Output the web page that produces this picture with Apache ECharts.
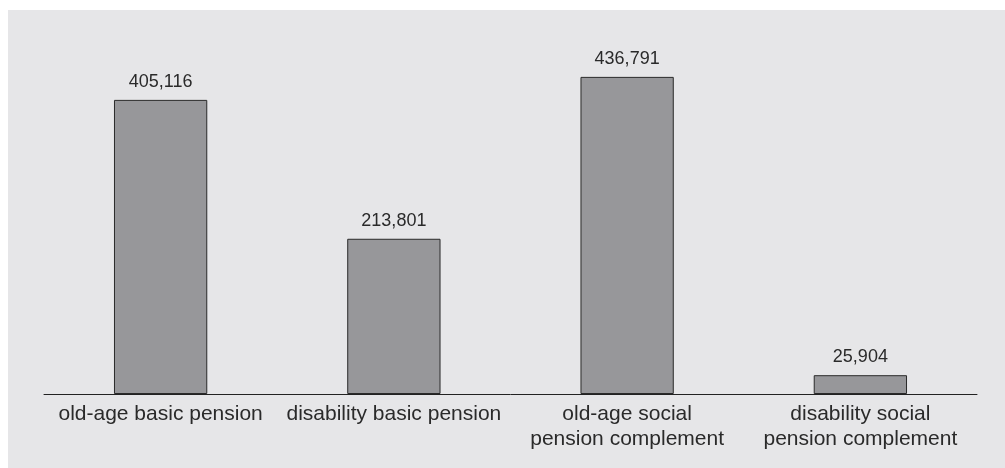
<!DOCTYPE html>
<html>
<head>
<meta charset="utf-8">
<script src="https://cdn.jsdelivr.net/npm/echarts@6/dist/echarts.min.js"></script>
<style>
  html, body { margin: 0; padding: 0; background: #ffffff; }
  #chart { position: absolute; left: 8px; top: 10px; width: 997px; height: 458px; background: #e6e6e8; }
</style>
</head>
<body>
<div id="chart"></div>
<script>
// Beneficiaries by pension type
const categories = [
  'old-age basic pension',
  'disability basic pension',
  'old-age social\npension complement',
  'disability social\npension complement'
];
const beneficiaries = [405116, 213801, 436791, 25904];

const chart = echarts.init(document.getElementById('chart'));
const fontFamily = '"Liberation Sans", Arial, Helvetica, sans-serif';

chart.setOption({
  backgroundColor: 'transparent',
  animation: false,
  grid: { left: 36, right: 28, top: 21, bottom: 74 },
  xAxis: {
    type: 'category',
    data: categories,
    axisLine: { show: true, lineStyle: { color: '#222222', width: 1 } },
    axisTick: { show: false },
    axisLabel: {
      color: '#2a2a2a',
      fontFamily: fontFamily,
      fontSize: 21,
      lineHeight: 25,
      margin: 8,
      interval: 0
    }
  },
  yAxis: {
    type: 'value',
    min: 0,
    max: 500000,
    show: false,
    splitLine: { show: false }
  },
  series: [{
    type: 'bar',
    data: beneficiaries,
    barWidth: '40%',
    itemStyle: { color: '#97979a', borderColor: '#2a2a2a', borderWidth: 1 },
    label: {
      show: true,
      position: 'top',
      distance: 9,
      color: '#2a2a2a',
      fontFamily: fontFamily,
      fontSize: 18,
      formatter: p => p.value.toLocaleString('en-US')
    }
  }]
});
</script>
</body>
</html>
